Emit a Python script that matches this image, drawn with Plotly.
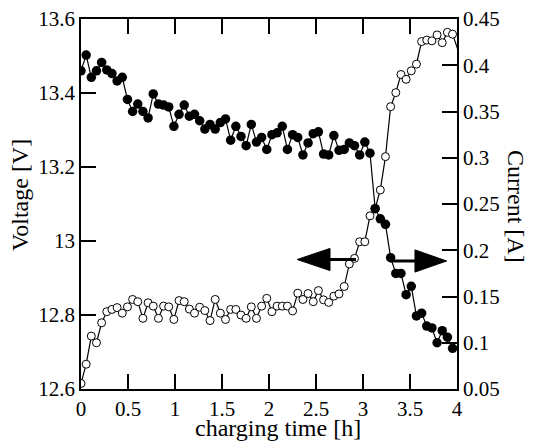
import plotly.graph_objects as go

# ---- data ----
t_step = 0.0549  # sampling interval [h]
voltage = [12.615, 12.667, 12.743, 12.725, 12.779, 12.809, 12.815, 12.820, 12.805, 12.822,
           12.842, 12.836, 12.791, 12.833, 12.824, 12.791, 12.824, 12.822, 12.788, 12.839,
           12.836, 12.816, 12.805, 12.821, 12.812, 12.785, 12.842, 12.805, 12.788, 12.815,
           12.815, 12.800, 12.791, 12.822, 12.791, 12.824, 12.845, 12.809, 12.824, 12.824,
           12.824, 12.811, 12.859, 12.842, 12.858, 12.836, 12.866, 12.841, 12.834, 12.851,
           12.857, 12.877, 12.938, 12.953, 12.998, 12.998, 13.068, 13.088, 13.138, 13.228,
           13.363, 13.401, 13.450, 13.437, 13.460, 13.478, 13.539, 13.543, 13.541, 13.557,
           13.536, 13.564, 13.559, 13.48]
current = [0.394, 0.411, 0.387, 0.394, 0.403, 0.395, 0.391, 0.383, 0.387, 0.363,
           0.350, 0.358, 0.350, 0.343, 0.369, 0.358, 0.357, 0.355, 0.334, 0.347,
           0.357, 0.345, 0.347, 0.340, 0.331, 0.336, 0.331, 0.338, 0.342, 0.319,
           0.334, 0.323, 0.313, 0.336, 0.317, 0.322, 0.309, 0.325, 0.327, 0.334,
           0.309, 0.325, 0.322, 0.303, 0.316, 0.326, 0.328, 0.304, 0.303, 0.324,
           0.308, 0.309, 0.316, 0.313, 0.303, 0.317, 0.305, 0.245, 0.234, 0.228,
           0.192, 0.175, 0.175, 0.152, 0.161, 0.129, 0.132, 0.118, 0.116, 0.100,
           0.113, 0.106, 0.094]
time_c = [round(i * t_step, 4) for i in range(len(current))]
time_v = time_c + [4.06]

x_ticks = [0, 0.5, 1, 1.5, 2, 2.5, 3, 3.5, 4]
x_labels = ["0", "0.5", "1", "1.5", "2", "2.5", "3", "3.5", "4"]
v_ticks = [12.6, 12.8, 13.0, 13.2, 13.4, 13.6]
v_labels = ["12.6", "12.8", "13", "13.2", "13.4", "13.6"]
i_ticks = [0.05, 0.1, 0.15, 0.2, 0.25, 0.3, 0.35, 0.4, 0.45]
i_labels = ["0.05", "0.1", "0.15", "0.2", "0.25", "0.3", "0.35", "0.4", "0.45"]

FONT = "Liberation Serif"
FS = 21
TFS = 24

fig = go.Figure()
fig.add_trace(go.Scatter(
    x=time_v, y=voltage, mode="lines+markers", yaxis="y",
    line=dict(color="black", width=1.2),
    marker=dict(symbol="circle", size=8, color="white", line=dict(color="black", width=1)),
))
fig.add_trace(go.Scatter(
    x=time_c, y=current, mode="lines+markers", yaxis="y2",
    line=dict(color="black", width=1.2),
    marker=dict(symbol="circle", size=9.5, color="black"),
))

axis_common = dict(
    showgrid=False, zeroline=False, showline=True, linecolor="black", linewidth=1.5,
    ticks="inside", ticklen=15, tickwidth=1.5, tickcolor="black", automargin=False,
    tickfont=dict(family=FONT, size=FS, color="black"),
)

fig.update_layout(
    width=533, height=442,
    margin=dict(l=81, r=76, t=19, b=53),
    paper_bgcolor="white", plot_bgcolor="white",
    showlegend=False,
    font=dict(family=FONT, size=FS, color="black"),
    xaxis=dict(range=[0, 4], tickvals=x_ticks, ticktext=x_labels, mirror="ticks", **axis_common),
    yaxis=dict(range=[12.6, 13.6], tickvals=v_ticks, ticktext=v_labels, **axis_common),
    yaxis2=dict(range=[0.05, 0.45], tickvals=i_ticks, ticktext=i_labels, overlaying="y",
                side="right", **axis_common),
)

# arrows (in voltage-axis data coordinates)
fig.add_shape(type="line", x0=2.62, x1=2.925, y0=12.950, y1=12.950, xref="x", yref="y",
              line=dict(color="black", width=3))
fig.add_shape(type="path", path="M 2.30,12.950 L 2.649,12.980 L 2.649,12.920 Z",
              xref="x", yref="y", fillcolor="black", line=dict(color="black", width=1))
fig.add_shape(type="line", x0=3.29, x1=3.58, y0=12.946, y1=12.946, xref="x", yref="y",
              line=dict(color="black", width=3))
fig.add_shape(type="path", path="M 3.89,12.946 L 3.553,12.976 L 3.553,12.916 Z",
              xref="x", yref="y", fillcolor="black", line=dict(color="black", width=1))

title_font = dict(family=FONT, size=TFS, color="black")
fig.add_annotation(text="Voltage [V]", xref="paper", yref="paper", x=0, y=0.5,
                   xshift=-61, yshift=9, textangle=-90, showarrow=False, font=title_font,
                   xanchor="center", yanchor="middle")
fig.add_annotation(text="Current [A]", xref="paper", yref="paper", x=1, y=0.5,
                   xshift=59, yshift=-2, textangle=90, showarrow=False, font=title_font,
                   xanchor="center", yanchor="middle")
fig.add_annotation(text="charging time [h]", xref="paper", yref="paper", x=0.5, y=0,
                   xshift=9, yshift=-39, showarrow=False, font=title_font,
                   xanchor="center", yanchor="middle")

fig.write_html("out.html", config={"displayModeBar": False},
               post_script="document.body.style.margin='0';document.body.style.padding='0';")
